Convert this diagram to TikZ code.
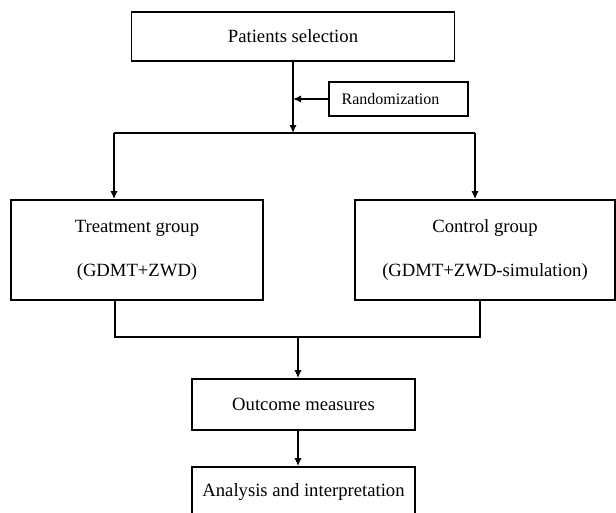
\documentclass[tikz,border=0pt]{standalone}
\usepackage{fontspec}
\setmainfont{Liberation Serif}
\usetikzlibrary{arrows,arrows.meta}
\tikzset{
  box/.style={draw,line width=1.3pt,inner sep=0pt,align=center,font=\fontsize{14}{17}\selectfont},
  smallbox/.style={box,font=\fontsize{12}{14}\selectfont},
  arr/.style={-{Latex[length=6pt,width=5.5pt]}}
}
\begin{document}
\begin{tikzpicture}[x=0.75pt,y=-0.75pt,line width=1.3pt]
        \clip (0,0) rectangle (616,512);
        \node[box,minimum width=323*0.75pt,minimum height=49*0.75pt] (sel) at (293,36.5) {Patients selection};
        \node[smallbox,minimum width=139*0.75pt,minimum height=34*0.75pt] (rand) at (398.5,99) {\hspace*{-12pt}Randomization};
        \node[box,minimum width=252*0.75pt,minimum height=100*0.75pt] (treat) at (137,250) {Treatment group\\[16pt](GDMT+ZWD)};
        \node[box,minimum width=260*0.75pt,minimum height=100*0.75pt] (ctrl) at (485,250) {Control group\\[16pt](GDMT+ZWD-simulation)};
        \node[box,minimum width=223*0.75pt,minimum height=51*0.75pt] (outc) at (303.5,404.5) {Outcome measures};
        \node[box,minimum width=223*0.75pt,minimum height=51*0.75pt] (anal) at (303.5,492.5) {Analysis and interpretation};
        \coordinate (split) at (293,133);
        \coordinate (sl) at (114,133);
        \coordinate (sr) at (475,133);
        \coordinate (jl) at (115,337);
        \coordinate (jr) at (480,337);
        \coordinate (jm) at (298,337);
        \draw[arr] (sel.south) -- (split);
        \draw[arr] (rand.west) -- (sel.south |- rand.west);
        \draw (sl) -- (sr);
        \draw[arr] (sl) -- (sl |- treat.north);
        \draw[arr] (sr) -- (sr |- ctrl.north);
        \draw (treat.south -| jl) -- (jl) -- (jr) -- (ctrl.south -| jr);
        \draw[arr] (jm) -- (jm |- outc.north);
        \draw[arr] (outc.south -| jm) -- (jm |- anal.north);
\end{tikzpicture}
\end{document}
